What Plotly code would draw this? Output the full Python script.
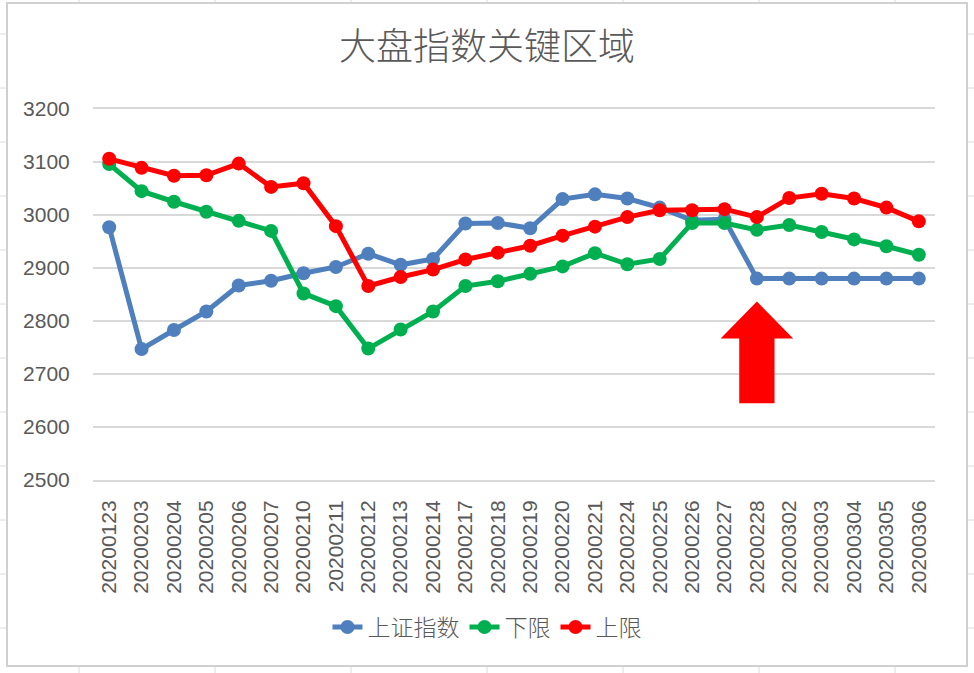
import plotly.graph_objects as go

# ---------------- data ----------------
dates = ["20200123", "20200203", "20200204", "20200205", "20200206", "20200207",
         "20200210", "20200211", "20200212", "20200213", "20200214", "20200217",
         "20200218", "20200219", "20200220", "20200221", "20200224", "20200225",
         "20200226", "20200227", "20200228", "20200302", "20200303", "20200304",
         "20200305", "20200306"]
sh_index = [2977, 2747, 2783, 2818, 2867, 2876, 2890, 2902, 2927, 2906, 2917, 2984,
            2985, 2975, 3030, 3039, 3031, 3014, 2990, 2992, 2880, 2880, 2880, 2880,
            2880, 2880]
lower = [3096, 3045, 3025, 3006, 2989, 2970, 2852, 2828, 2748, 2784, 2818, 2866,
         2875, 2889, 2903, 2928, 2907, 2917, 2985, 2985, 2972, 2981, 2968, 2954,
         2941, 2925]
upper = [3106, 3089, 3074, 3075, 3097, 3053, 3060, 2979, 2866, 2883, 2897, 2916,
         2929, 2942, 2961, 2978, 2996, 3009, 3009, 3011, 2996, 3032, 3040, 3031,
         3014, 2988]
series_names = ["上证指数", "下限", "上限"]
y_ticks = [2500, 2600, 2700, 2800, 2900, 3000, 3100, 3200]
title_text = "大盘指数关键区域"

# arrow annotation (points at the 20200228 category)
arrow_at = "20200228"
arrow_tip, arrow_head_base, arrow_bottom = 2837, 2767, 2645

# ---------------- layout constants ----------------
W, H = 974, 673
ML, MR, MT, MB = 93, 39, 109, 193
PW, PH = W - ML - MR, H - MT - MB
GRID = "#d9d9d9"
TXT = "#595959"
colors = ["#4f7fbd", "#00b050", "#ff0000"]


def px2x(px):
    return (px - ML) / PW


def py2y(py):
    return (H - MB - py) / PH


xs = list(range(len(dates)))
fig = go.Figure()
for name, vals, c in zip(series_names, [sh_index, lower, upper], colors):
    fig.add_trace(go.Scatter(
        x=xs, y=vals, name=name, mode="lines+markers",
        line=dict(color=c, width=5),
        marker=dict(color=c, size=14),
    ))

shapes = []
# arrow
ax = dates.index(arrow_at)
hw, sw = 1.12, 0.545
path = (f"M{ax},{arrow_tip} L{ax + hw},{arrow_head_base} L{ax + sw},{arrow_head_base} "
        f"L{ax + sw},{arrow_bottom} L{ax - sw},{arrow_bottom} L{ax - sw},{arrow_head_base} "
        f"L{ax - hw},{arrow_head_base} Z")
shapes.append(dict(type="path", path=path, xref="x", yref="y",
                   fillcolor="#ff0000", line=dict(width=0), layer="above"))

# chart border (Excel chart frame)
shapes.append(dict(type="rect", xref="paper", yref="paper",
                   x0=px2x(7), x1=px2x(967), y0=py2y(666), y1=py2y(3),
                   line=dict(color="#d0d0d0", width=2), layer="below"))
# sheet grid lines visible outside the frame
for vx in [79, 215, 351, 487, 623, 759, 895]:
    shapes.append(dict(type="line", xref="paper", yref="paper",
                       x0=px2x(vx), x1=px2x(vx), y0=py2y(0), y1=py2y(2),
                       line=dict(color="#dcdcdc", width=1)))
    shapes.append(dict(type="line", xref="paper", yref="paper",
                       x0=px2x(vx), x1=px2x(vx), y0=py2y(667), y1=py2y(673),
                       line=dict(color="#dcdcdc", width=1)))
for hy in [34, 88, 142, 196, 250, 304, 358, 412, 466, 520, 574, 628]:
    shapes.append(dict(type="line", xref="paper", yref="paper",
                       x0=px2x(0), x1=px2x(6), y0=py2y(hy), y1=py2y(hy),
                       line=dict(color="#dcdcdc", width=1)))
    shapes.append(dict(type="line", xref="paper", yref="paper",
                       x0=px2x(968), x1=px2x(974), y0=py2y(hy), y1=py2y(hy),
                       line=dict(color="#dcdcdc", width=1)))

fig.update_layout(
    width=W, height=H,
    margin=dict(l=ML, r=MR, t=MT, b=MB, pad=0),
    paper_bgcolor="white", plot_bgcolor="white",
    title=dict(text=title_text, x=0.5, xref="container", xanchor="center",
               y=1 - 47 / H, yref="container", yanchor="middle",
               font=dict(family="Noto Sans CJK SC", size=37, color=TXT, weight=300)),
    showlegend=True,
    legend=dict(orientation="h", x=0.5, xref="container", xanchor="center",
                y=1 - 627 / H, yref="container", yanchor="middle",
                font=dict(family="Noto Sans CJK SC", size=23, color=TXT, weight=300),
                bgcolor="rgba(0,0,0,0)"),
    xaxis=dict(range=[-0.5, len(dates) - 0.5], tickmode="array", tickvals=xs,
               ticktext=dates, tickangle=-90, showgrid=False, zeroline=False,
               showline=True, mirror=True, linecolor=GRID, linewidth=2,
               ticks="outside", ticklen=10,
               tickcolor="rgba(0,0,0,0)",
               tickfont=dict(family="Liberation Sans", size=21, color=TXT)),
    yaxis=dict(range=[2500, 3200], tickmode="array", tickvals=y_ticks,
               showgrid=True, gridcolor=GRID, gridwidth=2, zeroline=False,
               showline=False, ticks="outside", ticklen=18,
               tickcolor="rgba(0,0,0,0)",
               tickfont=dict(family="Liberation Sans", size=21, color=TXT)),
    shapes=shapes,
)

fig.write_html("out.html")
